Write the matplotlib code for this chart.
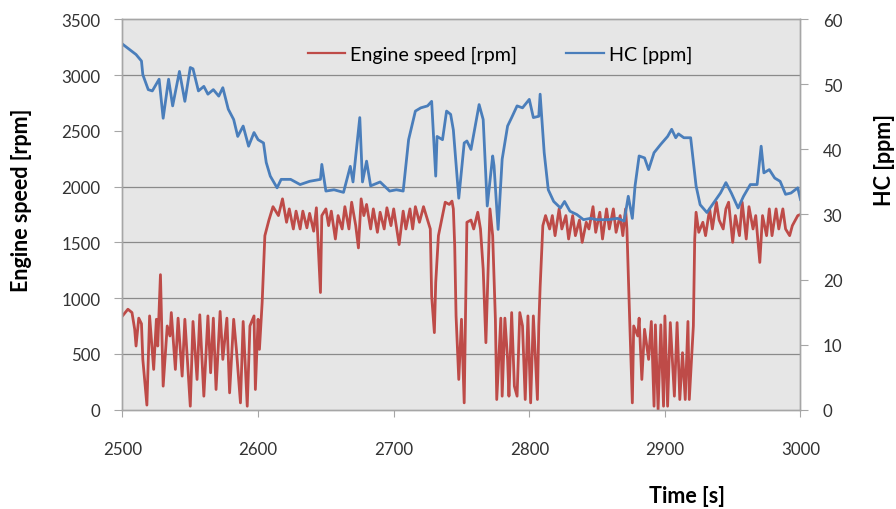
import matplotlib
matplotlib.use('Agg')
import matplotlib.pyplot as plt
from matplotlib.lines import Line2D

plt.rcParams['font.family'] = ['Lato', 'DejaVu Sans']

# HC trace [ppm], right axis
hc_t = [2500, 2505, 2510, 2514, 2515, 2519, 2522, 2527, 2530, 2534, 2537, 2542, 2546, 2550,
        2552, 2556, 2560, 2563, 2567, 2571, 2574, 2578, 2582, 2585, 2589, 2593, 2597, 2600,
        2604, 2606, 2609, 2614, 2617, 2624, 2631, 2638, 2646, 2647, 2650, 2656, 2663, 2668,
        2670, 2675, 2677, 2680, 2683, 2690, 2697, 2702, 2707, 2711, 2716, 2720, 2725, 2728,
        2731, 2732, 2736, 2739, 2742, 2744, 2748, 2752, 2754, 2757, 2763, 2766, 2769, 2773,
        2774, 2777, 2780, 2784, 2787, 2791, 2795, 2800, 2803, 2807, 2808, 2811, 2814, 2818,
        2823, 2826, 2830, 2835, 2840, 2845, 2850, 2858, 2865, 2870, 2873, 2876, 2878, 2881,
        2885, 2888, 2892, 2897, 2902, 2905, 2908, 2910, 2914, 2919, 2923, 2926, 2931, 2936,
        2941, 2945, 2949, 2954, 2958, 2963, 2968, 2971, 2973, 2977, 2981, 2985, 2989, 2993,
        2998, 3000]
hc_v = [56.2, 55.4, 54.6, 53.6, 51.5, 49.2, 49.0, 50.8, 44.8, 50.8, 46.7, 52.0, 47.4, 52.6,
        52.4, 49.0, 49.7, 48.5, 49.2, 48.2, 49.5, 46.2, 44.6, 42.0, 43.6, 40.5, 42.6, 41.5,
        41.0, 38.0, 35.9, 34.1, 35.4, 35.4, 34.6, 35.1, 35.4, 37.7, 33.6, 33.8, 33.4, 37.4,
        35.0, 44.9, 35.0, 38.2, 34.4, 35.0, 33.6, 33.8, 33.6, 41.5, 45.9, 46.4, 46.7, 47.4,
        35.9, 42.0, 41.5, 45.9, 45.4, 43.0, 32.5, 41.0, 41.3, 40.0, 46.9, 44.6, 31.3, 39.0,
        37.5, 27.7, 38.5, 43.6, 44.9, 46.7, 46.4, 47.7, 44.9, 45.1, 48.5, 39.5, 33.8, 32.0,
        31.0, 32.0, 30.5, 30.0, 29.2, 29.4, 29.2, 29.2, 29.4, 29.0, 32.8, 29.4, 34.4, 39.0,
        38.7, 36.9, 39.5, 40.8, 42.0, 43.1, 41.8, 42.4, 41.8, 41.8, 34.4, 31.5, 30.3, 31.8,
        33.3, 34.9, 33.3, 31.0, 32.8, 34.6, 34.6, 40.5, 36.4, 36.9, 35.6, 35.1, 33.1, 33.3,
        34.1, 32.3]

# engine speed trace [rpm], left axis
rpm_t = [2500, 2504, 2507, 2509, 2510, 2512, 2514, 2515, 2518, 2520, 2523, 2525, 2526, 2528,
         2529, 2530, 2533, 2535, 2536, 2539, 2541, 2544, 2546, 2550, 2552, 2555, 2557, 2560,
         2563, 2565, 2567, 2569, 2572, 2574, 2577, 2579, 2582, 2584, 2587, 2589, 2592, 2594,
         2597, 2598, 2600, 2601, 2603, 2605,
         2608, 2611, 2615, 2618, 2621, 2623, 2626, 2628, 2631, 2633, 2636, 2638, 2641, 2643,
         2646, 2647, 2650, 2652, 2654, 2657, 2659, 2662, 2664, 2667, 2669, 2672, 2674, 2676,
         2678, 2680, 2683, 2685, 2688, 2690, 2693, 2695, 2698, 2700, 2704, 2707, 2709, 2712,
         2714, 2716, 2719, 2722, 2724, 2727, 2728, 2730, 2731, 2733, 2736, 2738, 2741, 2743,
         2744, 2745, 2746, 2748, 2750, 2752, 2754, 2757, 2759, 2762, 2764, 2766, 2768, 2771,
         2773, 2774, 2775, 2776, 2779, 2780, 2782, 2784, 2785, 2787, 2789, 2791, 2793, 2795,
         2797, 2799, 2801, 2803, 2806, 2807, 2808, 2810, 2812, 2815, 2817, 2819, 2822, 2824,
         2827, 2829, 2832, 2834, 2837, 2839, 2842, 2844, 2847, 2849, 2852, 2854, 2857, 2859,
         2862, 2864, 2867, 2869, 2871, 2872, 2874, 2876, 2877, 2880, 2881, 2883, 2885, 2888,
         2890, 2892, 2893, 2895, 2897, 2899, 2900, 2902, 2904, 2907, 2909, 2911, 2913, 2915,
         2917, 2918, 2921, 2922, 2923, 2925, 2928, 2930, 2933, 2935, 2938, 2940, 2943, 2945,
         2947, 2950, 2952, 2955, 2957, 2960, 2962, 2965, 2967, 2970, 2972, 2975, 2977, 2979,
         2982, 2984, 2987, 2989, 2992, 2994, 2998, 3000]
rpm_v = [840, 900, 870, 720, 570, 820, 770, 450, 40, 840, 360, 810, 570, 1210,
         720, 210, 750, 660, 870, 360, 820, 300, 810, 30, 790, 270, 850, 120,
         840, 330, 820, 180, 880, 450, 820, 150, 810, 540, 60, 790, 30, 750,
         840, 180, 810, 540, 960, 1560,
         1700, 1820, 1740, 1890, 1680, 1800, 1620, 1780, 1620, 1780, 1630, 1760, 1600, 1810,
         1050, 1740, 1800, 1650, 1780, 1530, 1740, 1620, 1820, 1620, 1860, 1650, 1450, 1890,
         1740, 1840, 1620, 1800, 1590, 1770, 1620, 1810, 1650, 1800, 1480, 1780, 1620, 1800,
         1620, 1820, 1680, 1820, 1740, 1620, 1020, 690, 1140, 1560, 1740, 1860, 1840, 1870,
         1800, 1470, 840, 270, 810, 60, 1680, 1700, 1620, 1770, 1620, 1260, 600, 1800,
         1560, 1170, 810, 90, 820, 120, 820, 450, 120, 870, 210, 120, 870, 750,
         90, 840, 60, 840, 90, 750, 1100, 1650, 1740, 1620, 1740, 1560, 1800, 1620,
         1740, 1530, 1740, 1560, 1700, 1500, 1680, 1620, 1820, 1590, 1770, 1530, 1800, 1620,
         1800, 1590, 1740, 1560, 1800, 1620, 820, 60, 750, 660, 820, 270, 720, 450,
         790, 30, 760, 0, 760, 30, 840, 30, 780, 120, 780, 90, 510, 90,
         790, 90, 750, 1530, 1770, 1590, 1680, 1560, 1800, 1620, 1860, 1700, 1620, 1800,
         1860, 1500, 1740, 1560, 1860, 1530, 1820, 1620, 1740, 1320, 1740, 1560, 1800, 1560,
         1800, 1620, 1800, 1620, 1560, 1650, 1740, 1750]

x_ticks = [2500, 2600, 2700, 2800, 2900, 3000]
rpm_ticks = [0, 500, 1000, 1500, 2000, 2500, 3000, 3500]
hc_ticks = [0, 10, 20, 30, 40, 50, 60]
grid_rpm = [500, 1000, 1500, 2000, 3000]

red = '#be4b48'
blue = '#4a7ebb'
spine_c = '#a6a6a6'
txt_c = '#333333'

fig = plt.figure(figsize=(8.96, 5.10), dpi=100)
ax = fig.add_axes([0.1367, 0.195, 0.7567, 0.765])
ax.set_facecolor('#e6e6e6')
for v in grid_rpm:
    ax.axhline(v, color='#8a8a8a', lw=0.9, zorder=0.5)

ax.plot(rpm_t, rpm_v, color=red, lw=2.0, zorder=2, solid_joinstyle='round')
ax.set_xlim(2500, 3000)
ax.set_ylim(0, 3500)
ax.set_xticks(x_ticks)
ax.set_yticks(rpm_ticks)

ax2 = ax.twinx()
ax2.plot(hc_t, hc_v, color=blue, lw=2.0, solid_joinstyle='round')
ax2.set_ylim(0, 60)
ax2.set_yticks(hc_ticks)

for a in (ax, ax2):
    for s in a.spines.values():
        s.set_color(spine_c)
        s.set_linewidth(1.0)

ax.tick_params(axis='y', direction='out', length=6, color=spine_c, labelsize=12.2,
               labelcolor=txt_c, pad=10)
ax.tick_params(axis='x', direction='out', length=5, color=spine_c, labelsize=12.2,
               labelcolor=txt_c, pad=18)
ax2.tick_params(axis='y', direction='out', length=6, color=spine_c, labelsize=12.2,
                labelcolor=txt_c, pad=10)

fig.text(22 / 896, 1 - 200 / 510, 'Engine speed [rpm]', rotation=90, ha='center',
         va='center', fontsize=15.5, fontweight='bold')
fig.text(884 / 896, 1 - 160 / 510, 'HC [ppm]', rotation=90, ha='center',
         va='center', fontsize=15.5, fontweight='bold')
fig.text(687 / 896, 1 - 497 / 510, 'Time [s]', ha='center', va='center',
         fontsize=15.5, fontweight='bold')

handles = [Line2D([], [], color=red, lw=1.6), Line2D([], [], color=blue, lw=1.6)]
fig.legend(handles, ['Engine speed [rpm]', 'HC [ppm]'], loc='center',
           bbox_to_anchor=(500 / 896, 1 - 55 / 510), ncol=2, frameon=False,
           fontsize=14.2, handlelength=1.9, handletextpad=0.25, columnspacing=2.5)

fig.savefig('out.png', dpi=100)
